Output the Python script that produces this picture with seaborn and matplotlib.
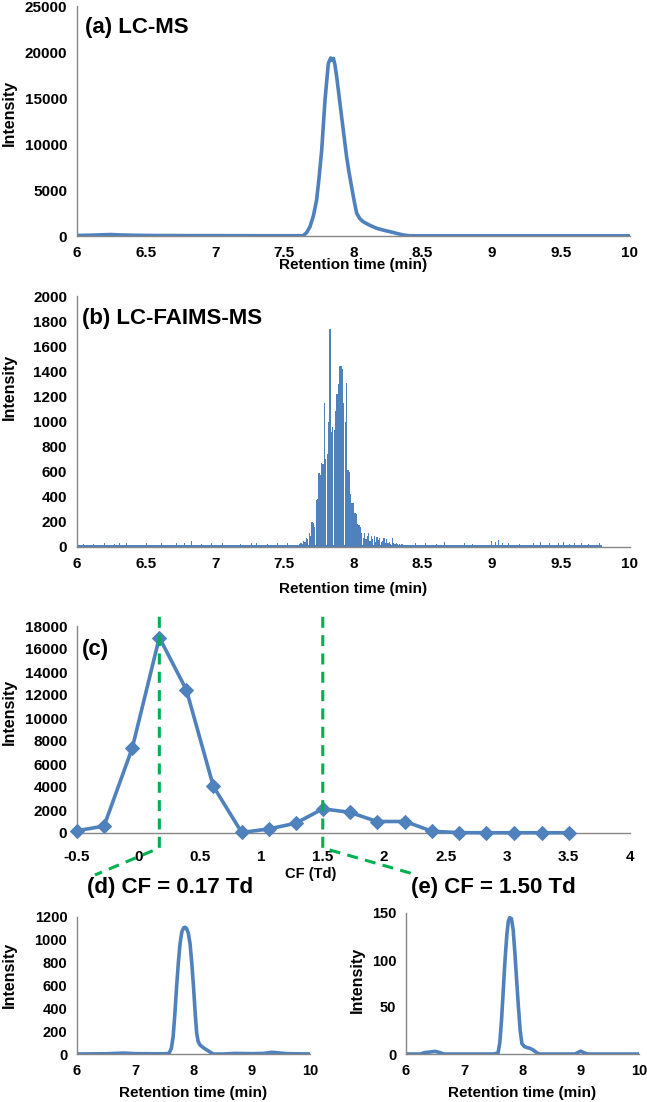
import numpy as np
import pandas as pd
import matplotlib
matplotlib.use("Agg")
import matplotlib.pyplot as plt
import seaborn as sns

sns.set_theme(style="white")
plt.rcParams['font.family'] = ['Liberation Sans', 'DejaVu Sans']
plt.rcParams['font.weight'] = 'bold'
plt.rcParams['axes.labelweight'] = 'bold'

BLUE = "#4F81BD"
GREEN = "#00B050"
SPINE = "#868686"
LABEL_FONT = ['Liberation Sans', 'DejaVu Sans']

# ---------------- data ----------------
# (a) LC-MS chromatogram
a_time = [6.00, 6.10, 6.20, 6.25, 6.30, 6.40, 6.50, 6.60, 6.70, 6.80, 6.90, 7.00,
          7.10, 7.20, 7.30, 7.40, 7.50, 7.60, 7.637, 7.66, 7.685, 7.71, 7.733, 7.75,
          7.77, 7.794, 7.818, 7.835, 7.845, 7.855, 7.866, 7.878, 7.895, 7.914, 7.932,
          7.95, 7.968, 7.986, 8.005, 8.023, 8.045, 8.07, 8.12, 8.167, 8.22, 8.264,
          8.31, 8.36, 8.41, 8.50, 8.70, 8.90, 9.10, 9.30, 9.50, 9.70, 9.90, 10.00]
a_int = [60, 90, 140, 160, 120, 80, 60, 50, 50, 40, 40, 40,
         35, 35, 30, 30, 30, 30, 40, 350, 1000, 2200, 3900, 6200,
         9350, 14800, 18770, 19350, 19100, 19300, 18600, 17340, 15300, 12970, 10800,
         8620, 6900, 5360, 3800, 2470, 1900, 1550, 1150, 840, 620, 470,
         290, 110, 20, 20, 20, 20, 20, 20, 20, 20, 20, 20]

# (b) LC-FAIMS-MS: peak region sampled every 0.01 min from 7.60 to 8.35
b_peak_start, b_peak_step = 7.60, 0.01
b_peak_int = [15, 20, 30, 25, 50, 40, 75, 60, 110, 90,
              200, 190, 160, 375, 380, 590, 575, 670, 660, 1150,
              700, 740, 1000, 1740, 920, 960, 930, 1080, 1220, 1300,
              1440, 1440, 1420, 1150, 1000, 1310, 610, 600, 420, 350,
              350, 270, 265, 180, 175, 160, 110, 70, 110, 60,
              90, 110, 50, 90, 60, 85, 40, 80, 55, 70,
              40, 45, 75, 35, 60, 30, 40, 25, 70, 30,
              20, 35, 20, 25, 15, 20]
b_noise_time = [6.05, 6.12, 6.20, 6.27, 6.31, 6.36, 6.42, 6.50, 6.55, 6.61, 6.68, 6.72,
                6.78, 6.83, 6.90, 6.97, 7.05, 7.10, 7.18, 7.26, 7.30, 7.38, 7.45, 7.52,
                7.57, 8.38, 8.45, 8.52, 8.60, 8.66, 8.72, 8.80, 8.86, 8.93, 9.00, 9.03,
                9.05, 9.08, 9.12, 9.20, 9.30, 9.35, 9.42, 9.48, 9.52, 9.56, 9.60, 9.65,
                9.70, 9.78]
b_noise_val = [25, 20, 30, 25, 35, 35, 25, 30, 30, 35, 40, 30,
               35, 50, 25, 35, 35, 45, 25, 30, 35, 25, 35, 30,
               35, 40, 30, 35, 25, 40, 30, 35, 25, 30, 45, 40,
               55, 35, 30, 25, 35, 40, 30, 35, 40, 25, 35, 30,
               25, 30]
b_base_level = 15
b_base_range = [6.00, 9.80]

# (c) CF scan
cf = [-0.50, -0.28, -0.05, 0.17, 0.39, 0.61, 0.84, 1.06, 1.28, 1.50,
      1.72, 1.94, 2.17, 2.39, 2.61, 2.83, 3.06, 3.28, 3.50]
c_int = [200, 600, 7400, 17000, 12450, 4050, 50, 350, 850, 2100,
         1800, 1000, 1000, 150, 30, 20, 20, 20, 20]
selected_cf = [0.17, 1.50]

# (d) CF = 0.17 Td
d_time = [6.0, 6.5, 6.8, 7.0, 7.3, 7.5, 7.58, 7.62, 7.65, 7.68, 7.71, 7.74, 7.77,
          7.80, 7.83, 7.855, 7.88, 7.91, 7.94, 7.97, 8.0, 8.03, 8.055, 8.08, 8.11,
          8.17, 8.23, 8.29, 8.34, 8.5, 8.7, 9.0, 9.2, 9.35, 9.45, 9.6, 10.0]
d_int = [0, 2, 8, 3, 2, 2, 5, 50, 150, 350, 590, 800, 970,
         1070, 1105, 1110, 1100, 1060, 970, 800, 590, 350, 180, 110, 80,
         55, 35, 15, 0, 0, 5, 3, 5, 15, 10, 3, 0]

# (e) CF = 1.50 Td
e_time = [6.0, 6.25, 6.32, 6.4, 6.5, 6.58, 6.65, 7.0, 7.5, 7.58, 7.61, 7.64, 7.67,
          7.70, 7.73, 7.756, 7.78, 7.81, 7.84, 7.87, 7.90, 7.93, 7.96, 7.99, 8.03,
          8.07, 8.13, 8.19, 8.25, 8.3, 8.5, 8.9, 8.95, 9.0, 9.05, 9.12, 9.5, 10.0]
e_int = [0, 0, 1.5, 2, 2.8, 1.5, 0, 0, 0, 1, 12, 36, 68,
         100, 126, 141, 145, 144, 132, 107, 78, 50, 25, 11, 8,
         7, 6, 4, 1, 0, 0, 0, 1.5, 3, 1.5, 0, 0, 0]

# ---------------- figure ----------------
W, H = 647, 1102
fig = plt.figure(figsize=(W / 100, H / 100), dpi=100)


def px_axes(left, top, right, bottom):
    return fig.add_axes([left / W, 1 - bottom / H, (right - left) / W, (bottom - top) / H])


def style(ax, xlim, xticks, ylim, yticks):
    ax.set_xlim(*xlim)
    ax.set_ylim(*ylim)
    ax.set_xticks(xticks)
    ax.set_yticks(yticks)
    ax.set_xticklabels([f"{t:g}" for t in xticks])
    ax.set_yticklabels([f"{t:g}" for t in yticks])
    for s in ["top", "right"]:
        ax.spines[s].set_visible(False)
    for s in ["left", "bottom"]:
        ax.spines[s].set_color(SPINE)
        ax.spines[s].set_linewidth(1.0)
    ax.tick_params(axis="both", direction="out", length=4, width=1, color=SPINE,
                   labelcolor="black", pad=3)
    ax.grid(False)
    ax.set_facecolor("white")


def labels(ax, xlabel, xpos, ylabel, ypos, xfs=11, yfs=11.5):
    ax.set_xlabel(xlabel, fontsize=xfs, fontweight="bold", family=LABEL_FONT, color="black")
    ax.set_ylabel(ylabel, fontsize=yfs, fontweight="bold", family=LABEL_FONT, color="black")
    ax.xaxis.set_label_coords(xpos[0] / W, 1 - xpos[1] / H, transform=fig.transFigure)
    ax.yaxis.set_label_coords(ypos[0] / W, 1 - ypos[1] / H, transform=fig.transFigure)
    ax.xaxis.label.set_va("center")
    ax.yaxis.label.set_va("center")


def title(x, y, s, ha="left"):
    fig.text(x / W, 1 - y / H, s, ha=ha, va="center", fontsize=16, fontweight="bold",
             family=LABEL_FONT, color="black")


# (a)
ax_a = px_axes(77, 6, 630, 236)
df_a = pd.DataFrame({"t": a_time, "I": a_int})
sns.lineplot(data=df_a, x="t", y="I", ax=ax_a, color=BLUE, linewidth=2.6,
             estimator=None, sort=False)
style(ax_a, (6, 10), [6, 6.5, 7, 7.5, 8, 8.5, 9, 9.5, 10], (0, 25000),
      [0, 5000, 10000, 15000, 20000, 25000])
labels(ax_a, "Retention time (min)", (353, 265), "Intensity", (9, 113))
title(85, 27, "(a) LC-MS")

# (b)
ax_b = px_axes(77, 296, 630, 547)
b_peak_time = np.round(b_peak_start + b_peak_step * np.arange(len(b_peak_int)), 2)
ax_b.fill_between(b_base_range, 0, b_base_level, color=BLUE, linewidth=0)
ax_b.bar(b_noise_time, b_noise_val, width=0.006, color=BLUE, linewidth=0)
ax_b.bar(b_peak_time, b_peak_int, width=0.009, color=BLUE, linewidth=0)
style(ax_b, (6, 10), [6, 6.5, 7, 7.5, 8, 8.5, 9, 9.5, 10], (0, 2000),
      list(range(0, 2001, 200)))
labels(ax_b, "Retention time (min)", (353, 589), "Intensity", (9, 387))
title(82, 318, "(b) LC-FAIMS-MS")

# (c)
ax_c = px_axes(77, 626, 630, 833)
df_c = pd.DataFrame({"CF": cf, "I": c_int})
sns.lineplot(data=df_c, x="CF", y="I", ax=ax_c, color=BLUE, linewidth=2.6,
             marker="D", markersize=7.5, markeredgecolor=BLUE, estimator=None,
             sort=False, clip_on=False, zorder=3)
style(ax_c, (-0.5, 4), [-0.5, 0, 0.5, 1, 1.5, 2, 2.5, 3, 3.5, 4], (0, 18000),
      list(range(0, 18001, 2000)))
ax_c.tick_params(axis="x", pad=8)
labels(ax_c, "CF (Td)", (311, 874), "Intensity", (9, 712), xfs=10.5)
title(82, 650, "(c)")
# green dashed guides linking the selected CF values to panels (d) and (e)
end_x = [-0.354, 2.266]
for sx, ex in zip(selected_cf, end_x):
    ax_c.plot([sx, sx, ex], [18800, -1300, -3650], color=GREEN, linewidth=2.2,
              linestyle=(0, (3.6, 2.4)), clip_on=False, zorder=5)

# (d)
ax_d = px_axes(77, 917, 310, 1054)
df_d = pd.DataFrame({"t": d_time, "I": d_int})
sns.lineplot(data=df_d, x="t", y="I", ax=ax_d, color=BLUE, linewidth=2.6,
             estimator=None, sort=False)
style(ax_d, (6, 10), [6, 7, 8, 9, 10], (0, 1200), list(range(0, 1201, 200)))
labels(ax_d, "Retention time (min)", (193, 1093), "Intensity", (9, 975))
title(170, 888, "(d) CF = 0.17 Td", ha="center")

# (e)
ax_e = px_axes(406, 913, 639, 1054)
df_e = pd.DataFrame({"t": e_time, "I": e_int})
sns.lineplot(data=df_e, x="t", y="I", ax=ax_e, color=BLUE, linewidth=2.6,
             estimator=None, sort=False)
style(ax_e, (6, 10), [6, 7, 8, 9, 10], (0, 150), [0, 50, 100, 150])
labels(ax_e, "Retention time (min)", (522, 1093), "Intensity", (357, 980))
title(493, 888, "(e) CF = 1.50 Td", ha="center")

# final tick-label font settings (applied after layout so they stick)
fig.canvas.draw()
for ax, fs in [(ax_a, 11), (ax_b, 11), (ax_c, 11), (ax_d, 10.5), (ax_e, 10.5)]:
    for lab in ax.get_xticklabels() + ax.get_yticklabels():
        lab.set_fontsize(fs)
        lab.set_fontweight("bold")
        lab.set_fontfamily(LABEL_FONT)
        lab.set_color("black")

fig.savefig("out.png", dpi=100, facecolor="white")
